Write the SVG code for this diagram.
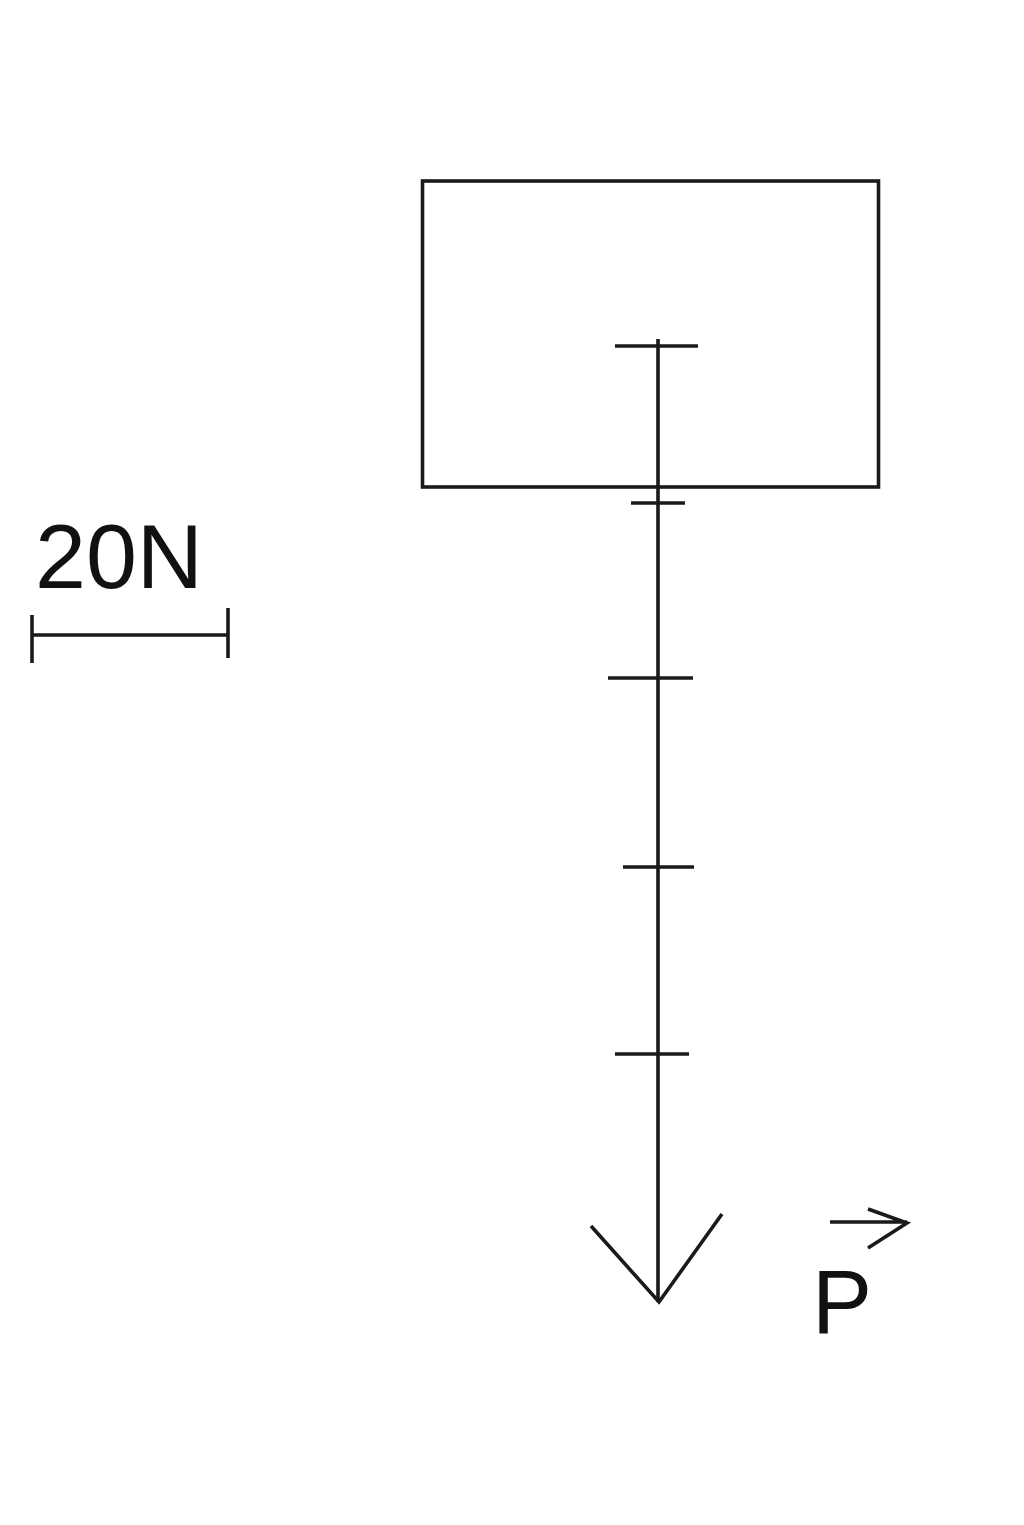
<svg xmlns="http://www.w3.org/2000/svg" width="1024" height="1525" viewBox="0 0 1024 1525">
<style>
.s{stroke:#1a1a1a;stroke-width:3.6;fill:none;stroke-linecap:butt}
.t{font-family:"Liberation Sans",Arial,sans-serif;fill:#111}
</style>
<rect width="1024" height="1525" fill="#fff"/>
<g id="block">
<rect class="s" x="422.5" y="181" width="456" height="306"/>
</g>
<g id="scale">
<text class="t" x="35" y="588" font-size="91" textLength="168" lengthAdjust="spacingAndGlyphs">20N</text>
<line class="s" x1="32" y1="635" x2="228" y2="635"/>
<line class="s" x1="32" y1="615" x2="32" y2="663"/>
<line class="s" x1="228" y1="608" x2="228" y2="658"/>
</g>
<g id="label-P">
<text class="t" x="812" y="1333" font-size="90">P</text>
<path class="s" d="M830 1222 L907 1222 M868 1209 L907 1223 L868 1248"/>
</g>
<g id="connectors">
<line class="s" x1="658" y1="339" x2="658" y2="1302"/>
<line class="s" x1="615" y1="346" x2="698" y2="346"/>
<line class="s" x1="631" y1="503" x2="685" y2="503"/>
<line class="s" x1="608" y1="678" x2="693" y2="678"/>
<line class="s" x1="623" y1="867" x2="694" y2="867"/>
<line class="s" x1="615" y1="1054" x2="689" y2="1054"/>
<path class="s" d="M591 1226 L659 1302 L722 1214"/>
</g>
</svg>
